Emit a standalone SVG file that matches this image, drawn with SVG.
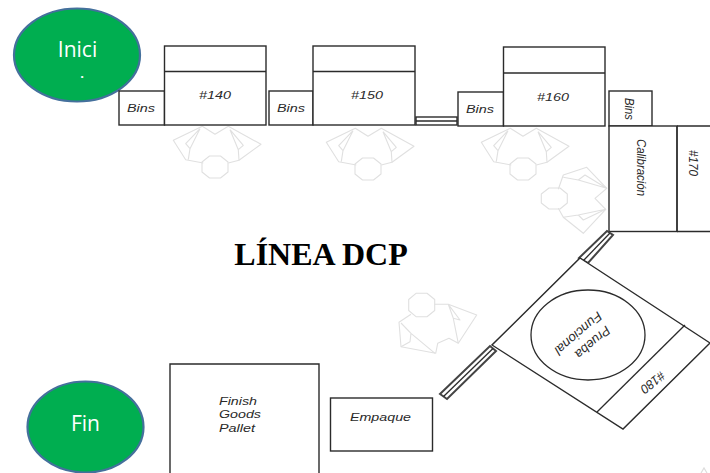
<svg xmlns="http://www.w3.org/2000/svg" width="710" height="473" viewBox="0 0 710 473">
<style>
.b{fill:#fff;stroke:#2b2b2b;stroke-width:1.4}
.l{fill:none;stroke:#2b2b2b;stroke-width:1.3}
.d{fill:none;stroke:#444;stroke-width:2}
.p{fill:none;stroke:#e0e0e0;stroke-width:1.1;stroke-linejoin:round}
.t{font-family:"Liberation Sans",Arial,sans-serif;font-style:italic;font-size:11px;fill:#2a2a2a}
.r{font-size:13px}
.c{text-anchor:middle}
.g{fill:#00ae50;stroke:#44709c;stroke-width:2.2}
.w{font-family:"Open Sans",sans-serif;font-size:21px;fill:#fff;text-anchor:middle}
.s{font-size:13px;font-weight:700}
</style>
<defs>
<g id="person">
<path class="p" d="M-11.700-4-29.300-7.300-41.700-26.700-12.700-40.700 0-32.700 13.300-40.700 46-22.700 24-6.700 13.300-4"/>
<path class="p" d="M-15-38.300-29.300-23.300-25-18.300-26.700-7.300M-15-38.300-25-18.300M15-37.300 28.300-21.700 23.300-17.300 24-6.700M15-37.300 23.300-17.300"/>
<polygon class="p" points="-5.500,-11 5.500,-11 13,-5 13,5 5.500,11 -5.500,11 -13,5 -13,-5"/>
</g>
</defs>
<rect width="710" height="473" fill="#fff"/>
<g id="connectors"></g>

<g id="person-140"><use href="#person" x="215" y="167"/></g>
<g id="person-150"><use href="#person" x="368" y="169"/></g>
<g id="person-160"><use href="#person" x="523" y="169"/></g>
<g id="person-170">
<path class="p" d="M558.300 189.300 563.300 175 586.700 167.300 606.700 188.300 595 198.300 605.700 209.300 583.300 233.300 563.300 217.300 558.300 208.300"/>
<path class="p" d="M563.300 177.300 578.300 180 585 175 606.700 188.300 578.300 180M563.300 217.300 578.300 215 583.300 220 605.700 209.300 578.300 215"/>
<polygon class="p" points="549,188 560,188 567.300,194 567.300,203 560,209 549,209 541.300,203 541.300,194"/>
</g>
<g id="person-180">
<path class="p" d="M434.300 304.300 448.300 304.300 476.700 315 458.300 343.300 449 338.300 437.700 343.300 435.700 353.300 401 346.700 399 322.300 411 314.300"/>
<path class="p" d="M448.300 304.300 460 320 453.300 318.300 458.300 343.300M448.300 304.300 453.300 318.300M435 353.300 411 333.300 410 341.700 401 346.700M401 323 411 333.300"/>
<polygon class="p" points="416,293.300 427,293.300 434.700,299.500 434.700,310.500 427,316.700 416,316.700 408.700,310.500 408.700,299.500"/>
</g>

<g id="start"><ellipse class="g" cx="77" cy="55" rx="63" ry="46.500"/><text class="w" x="77.500" y="57">Inici</text><text class="w s" x="82" y="78">.</text></g>
<g id="end"><ellipse class="g" cx="85.500" cy="427" rx="58" ry="45.500"/><text class="w" x="85.500" y="431">Fin</text></g>

<g id="bins-1"><rect class="b" x="119" y="91" width="45.500" height="34"/><text class="t" x="127" y="112" textLength="28" lengthAdjust="spacingAndGlyphs">Bins</text></g>
<g id="st-140"><rect class="b" x="164.500" y="46" width="101.500" height="79"/><path class="l" d="M164.500 71.500H266"/><text class="t" x="199" y="99" textLength="32" lengthAdjust="spacingAndGlyphs">#140</text></g>
<g id="bins-2"><rect class="b" x="269" y="91" width="44" height="34"/><text class="t" x="277" y="112" textLength="28" lengthAdjust="spacingAndGlyphs">Bins</text></g>
<g id="st-150"><rect class="b" x="313" y="46" width="102" height="79"/><path class="l" d="M313 71.500H415"/><text class="t" x="351" y="99" textLength="32" lengthAdjust="spacingAndGlyphs">#150</text></g>
<g id="bar-1"><rect class="b" x="416" y="117" width="41" height="8"/><path class="l" d="M416 121H457"/></g>
<g id="bins-3"><rect class="b" x="458" y="92" width="45.500" height="34"/><text class="t" x="466" y="113" textLength="28" lengthAdjust="spacingAndGlyphs">Bins</text></g>
<g id="st-160"><rect class="b" x="503.500" y="47" width="101.500" height="79"/><path class="l" d="M503.500 73H605"/><text class="t" x="537" y="101" textLength="32" lengthAdjust="spacingAndGlyphs">#160</text></g>
<g id="bins-4"><rect class="b" x="609" y="91" width="43" height="35"/><text class="t r" transform="translate(625 98) rotate(90)" textLength="22" lengthAdjust="spacingAndGlyphs">Bins</text></g>
<g id="calibracion"><rect class="b" x="609" y="126" width="68" height="105.500"/><text class="t r" transform="translate(637 139) rotate(90)" textLength="57" lengthAdjust="spacingAndGlyphs">Calibración</text></g>
<g id="st-170"><path class="l" d="M677 126H710M677 231.500H710M677 126V231.500"/><text class="t r" transform="translate(689 150) rotate(90)" textLength="26" lengthAdjust="spacingAndGlyphs">#170</text></g>

<g id="bar-2"><polygon class="d" points="579,258 607,231 613,235 588,263"/><path class="l" d="M583.500 260.500 610 233"/></g>
<g id="st-180">
<polygon class="b" points="580,258 710,343 623,429 492,345"/>
<path class="l" d="M685 325 597 412"/>
<ellipse class="l" cx="588" cy="335" rx="57" ry="45"/>
<text class="t r c" transform="translate(590 339) rotate(139)" textLength="42" lengthAdjust="spacingAndGlyphs">Prueba</text>
<text class="t r c" transform="translate(575.500 330) rotate(139)" textLength="58" lengthAdjust="spacingAndGlyphs">Funcional</text>
<text class="t r c" transform="translate(650 379) rotate(142)" textLength="27" lengthAdjust="spacingAndGlyphs">#180</text>
</g>
<g id="bar-3"><polygon class="d" points="440,394 490,346 496,351 447,399"/><path class="l" d="M443.500 396.500 493 348.500"/></g>

<g id="pallet"><path class="b" d="M170 473V364H319V473"/>
<text class="t" x="219" y="405" textLength="38" lengthAdjust="spacingAndGlyphs">Finish</text>
<text class="t" x="219" y="418" textLength="42" lengthAdjust="spacingAndGlyphs">Goods</text>
<text class="t" x="219" y="432" textLength="36" lengthAdjust="spacingAndGlyphs">Pallet</text></g>
<g id="empaque"><rect class="b" x="330.500" y="398" width="102" height="53"/><text class="t" x="350" y="421" textLength="61" lengthAdjust="spacingAndGlyphs">Empaque</text></g>

<text x="321" y="265" text-anchor="middle" font-family="'Liberation Serif',serif" font-weight="bold" font-size="32px" fill="#000">LÍNEA DCP</text>
<path d="M701 473 704 468 707 473" fill="none" stroke="#ddd" stroke-width="1.200"/>
</svg>
